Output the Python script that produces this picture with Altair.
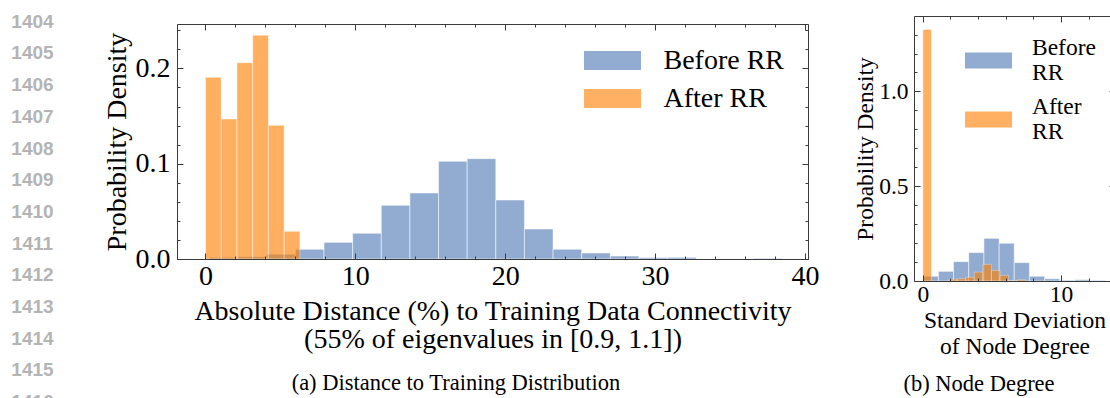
import altair as alt
import pandas as pd

W, H = 1110, 398

# ---------------- data ----------------
line_numbers = [1404, 1405, 1406, 1407, 1408, 1409, 1410, 1411, 1412, 1413, 1414, 1415, 1416]

# panel (a): distance to training distribution
a_before_edges = [0.27, 2.18, 4.09, 6.00, 7.91, 9.82, 11.73, 13.64, 15.55, 17.46, 19.37,
                  21.28, 23.19, 25.10, 27.01, 28.92, 30.83, 32.74, 34.65, 36.56, 38.47]
a_before_density = [0.0017, 0.0024, 0.0050, 0.0102, 0.0175, 0.0270, 0.0563, 0.0693, 0.1025, 0.1053,
                    0.0619, 0.0315, 0.0102, 0.0063, 0.0031, 0.0014, 0.0017, 0.0, 0.0, 0.0007]
a_after_edges = [0.00, 1.05, 2.10, 3.15, 4.20, 5.25, 6.30]
a_after_density = [0.1907, 0.1470, 0.2060, 0.2349, 0.1403, 0.0291]

# panel (b): node degree
b_before_edges = [0.03, 1.13, 2.22, 3.32, 4.42, 5.52, 6.61, 7.71, 8.81, 9.90, 11.00, 12.10, 13.20]
b_before_density = [0.025, 0.051, 0.102, 0.150, 0.225, 0.199, 0.097, 0.025, 0.012, 0.004, 0.007, 0.003]
b_after_edges = [0.00, 0.62, 1.24, 1.86, 2.48, 3.10, 3.72, 4.34, 4.96, 5.58, 6.20, 6.82, 7.44]
b_after_density = [1.327, 0.0, 0.0, 0.010, 0.012, 0.020, 0.047, 0.088, 0.056, 0.030, 0.003, 0.007]

series_names = ["Before RR", "After RR"]

a_x_ticks = [0, 10, 20, 30, 40]
a_x_minor = [0, 2, 4, 6, 8, 10, 12, 14, 16, 18, 20, 22, 24, 26, 28, 30, 32, 34, 36, 38, 40]
a_y_ticks = [0.0, 0.1, 0.2]
a_y_minor = [0.0, 0.02, 0.04, 0.06, 0.08, 0.10, 0.12, 0.14, 0.16, 0.18, 0.20, 0.22, 0.24]
b_x_ticks = [0, 10]
b_x_minor = [0, 2, 4, 6, 8, 10, 12]
b_y_ticks = [0.0, 0.5, 1.0]
b_y_minor = [0.0, 0.1, 0.2, 0.3, 0.4, 0.5, 0.6, 0.7, 0.8, 0.9, 1.0, 1.1, 1.2, 1.3]

a_xlabel = ["Absolute Distance (%) to Training Data Connectivity",
            "(55% of eigenvalues in [0.9, 1.1])"]
b_xlabel = ["Standard Deviation", "of Node Degree"]
ylabel = "Probability Density"
captions = ["(a) Distance to Training Distribution", "(b) Node Degree"]

# ---------------- styles ----------------
SERIF = "Liberation Serif"
BLUE = "#92acd1"
ORANGE = "#ff7f00"
ORANGE_SOLID = "#ffb062"
FRAME = "#3a3a3a"


def bars(edges, dens, name):
    df = pd.DataFrame({"x0": edges[:-1], "x1": edges[1:], "d": dens, "series": name})
    return df[df["d"] > 0]


def tick_axis(orient, offset, values, size, domain):
    return alt.Axis(orient=orient, offset=offset, values=values, labels=False, ticks=True,
                    tickSize=size, tickWidth=1, tickColor=FRAME, domain=domain,
                    domainColor=FRAME, domainWidth=1, grid=False, title=None, zindex=1)


def panel(bdf, adf, xdom, ydom, xr, yr, xt, xm, yt, ym, fs, xtitle, ytitle_x, xtitle_y,
          lh, pad_x, pad_y, legend):
    xs = alt.Scale(domain=xdom, range=xr, nice=False, zero=False)
    ys = alt.Scale(domain=ydom, range=yr, nice=False, zero=False)
    left, right = xr
    bottom, top = yr

    lab_x = alt.Axis(orient="bottom", offset=bottom - H, values=xt, format="d", ticks=False,
                     domain=False, grid=False, labelFont=SERIF, labelFontSize=fs,
                     labelColor="black", labelPadding=pad_x, title=xtitle, titleFont=SERIF,
                     titleFontSize=fs, titleFontWeight="normal", titleColor="black",
                     titleBaseline="middle", titleY=xtitle_y, titleLineHeight=lh)
    lab_y = alt.Axis(orient="left", offset=-left, values=yt, format=".1f", ticks=False,
                     domain=False, grid=False, labelFont=SERIF, labelFontSize=fs,
                     labelColor="black", labelPadding=pad_y, title=ylabel, titleFont=SERIF,
                     titleFontSize=fs, titleFontWeight="normal", titleColor="black",
                     titleBaseline="middle", titleAngle=-90, titleX=ytitle_x,
                     titleY=(top + bottom) / 2)

    before = alt.Chart(bdf).mark_bar(stroke="white", strokeWidth=0.5).encode(
        x=alt.X("x0:Q", scale=xs, axis=lab_x), x2="x1:Q",
        y=alt.Y("d:Q", scale=ys, axis=lab_y), y2=alt.datum(0),
        color=alt.Color("series:N", scale=alt.Scale(domain=series_names,
                                                    range=[BLUE, ORANGE_SOLID]),
                        legend=legend))
    after = alt.Chart(adf).mark_bar(color=ORANGE, opacity=0.62, stroke="white",
                                    strokeWidth=0.5).encode(
        x=alt.X("x0:Q", scale=xs, axis=tick_axis("top", -bottom, xt, 6, True)), x2="x1:Q",
        y=alt.Y("d:Q", scale=ys, axis=tick_axis("right", left - W, yt, 6, True)),
        y2=alt.datum(0))
    inv1 = alt.Chart(bdf).mark_point(opacity=0).encode(
        x=alt.X("x0:Q", scale=xs, axis=tick_axis("top", -bottom, xm, 3, False)),
        y=alt.Y("d:Q", scale=ys, axis=tick_axis("right", left - W, ym, 3, False)))
    inv2 = alt.Chart(bdf).mark_point(opacity=0).encode(
        x=alt.X("x0:Q", scale=xs, axis=tick_axis("bottom", top - H, xt, 6, True)),
        y=alt.Y("d:Q", scale=ys, axis=tick_axis("left", -right, yt, 6, True)))
    inv3 = alt.Chart(bdf).mark_point(opacity=0).encode(
        x=alt.X("x0:Q", scale=xs, axis=tick_axis("bottom", top - H, xm, 3, False)),
        y=alt.Y("d:Q", scale=ys, axis=tick_axis("left", -right, ym, 3, False)))
    return [before, after, inv1, inv2, inv3]


legend_a = alt.Legend(title=None, orient="none", legendX=598, legendY=46, padding=0,
                      symbolType="M-2,-0.6667H2V0.6667H-2Z", symbolSize=812.25,
                      symbolStrokeWidth=0, labelFont=SERIF, labelFontSize=28,
                      labelColor="black", labelOffset=36.5, rowPadding=9, labelLimit=400)
legend_b = alt.Legend(title=None, orient="none", legendX=965, legendY=37, padding=0,
                      symbolType="M-1,-0.34H1V0.34H-1Z", symbolSize=2209,
                      symbolStrokeWidth=0, labelFont=SERIF, labelFontSize=23.5,
                      labelColor="black", labelOffset=20, rowPadding=9, labelLimit=400,
                      labelBaseline="line-bottom",
                      labelExpr="split(datum.label, ' ')")

layers_a = panel(bars(a_before_edges, a_before_density, "Before RR"),
                 bars(a_after_edges, a_after_density, "After RR"),
                 [-1.9, 40.2], [0, 0.2466], [177, 808], [259, 24],
                 a_x_ticks, a_x_minor, a_y_ticks, a_y_minor, 28, a_xlabel,
                 117 - 177, 52, 28, 3, 7, legend_a)
layers_b = panel(bars(b_before_edges, b_before_density, "Before RR"),
                 bars(b_after_edges, b_after_density, "After RR"),
                 [-0.64, 13.9], [0, 1.398], [914, 1115], [281, 16],
                 b_x_ticks, b_x_minor, b_y_ticks, b_y_minor, 23.5, b_xlabel,
                 865 - 914, 39, 26, 1, 6, legend_b)

nums = pd.DataFrame({"n": line_numbers, "label": [str(v) for v in line_numbers]})
numbers = alt.Chart(nums).mark_text(font="Liberation Sans", fontWeight="bold", fontSize=19,
                                    color="#b4b4b4", align="center", baseline="middle").encode(
    y=alt.Y("n:Q", scale=alt.Scale(domain=[1404, 1416], range=[21.7, 402.1], zero=False,
                                   nice=False), axis=None),
    x=alt.value(32.5), text="label:N")

cap_a = alt.Chart(pd.DataFrame({"c": [captions[0]]})).mark_text(
    font=SERIF, fontSize=22.5, color="black", align="center", baseline="middle").encode(
    x=alt.value(456), y=alt.value(383), text="c:N")
cap_b = alt.Chart(pd.DataFrame({"c": [captions[1]]})).mark_text(
    font=SERIF, fontSize=22.5, color="black", align="center", baseline="middle").encode(
    x=alt.value(979), y=alt.value(384), text="c:N")

chart = alt.layer(*layers_a, *layers_b, numbers, cap_a, cap_b).resolve_scale(
    x="independent", y="independent", color="independent"
).properties(
    width=W, height=H, padding=0, autosize=alt.AutoSizeParams(type="none")
).configure_view(stroke=None)

chart.save("out.html", embed_options={"renderer": "svg", "actions": False})
